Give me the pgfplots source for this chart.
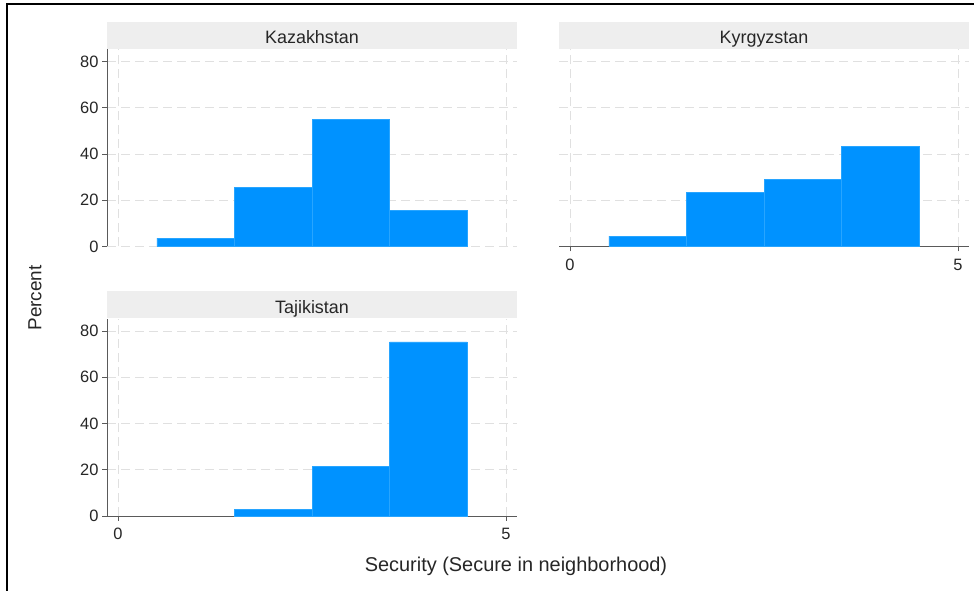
\documentclass[border=0pt]{standalone}
\usepackage{pgfplots}
\pgfplotsset{compat=1.18}
\usepackage{fontspec}
\setmainfont{Liberation Sans}
\definecolor{barblue}{RGB}{0,146,255}
\definecolor{baredge}{RGB}{40,165,255}
\definecolor{stripgray}{RGB}{238,238,238}
\definecolor{gridgray}{RGB}{224,224,224}
\definecolor{axgray}{RGB}{90,90,90}
\pgfplotsset{
  panel/.style={
    scale only axis, width=410bp, height=197bp,
    anchor=south west,
    xmin=-0.142, xmax=5.142, ymin=0, ymax=85.2,
    xtick={0,5}, ytick={0,20,40,60,80},
    grid=major,
    major grid style={dash pattern=on 9bp off 5bp, draw=gridgray, line width=0.9bp},
    axis lines*=left,
    axis line style={draw=axgray, line width=0.9bp},
    tick align=outside, major tick length=5bp,
    tick style={draw=axgray, line width=0.9bp},
    tick label style={font=\fontsize{16.5}{18}\selectfont, text=black!85},
    xticklabel style={yshift=-4bp},
    /pgf/number format/assume math mode=true,
    every axis title shift=0pt,
    title style={at={(rel axis cs:0.5,1)}, anchor=south, fill=stripgray,
      minimum width=410bp, text height=22bp, text depth=5bp, inner sep=0pt, yshift=0.5bp,
      font=\fontsize{18}{20}\selectfont, text=black!85},
    clip=false,
  },
  bars/.style={ybar interval, fill=barblue, draw=baredge, line width=0.6bp},
}
\begin{document}
\begin{tikzpicture}
\path[use as bounding box] (0bp,0bp) rectangle (974bp,591bp);
\draw[line width=1.6bp, black] (7bp,0bp) -- (7bp,587bp) -- (974bp,587bp);

% Kazakhstan
\begin{axis}[panel, at={(107bp,344.5bp)}, title={Kazakhstan},
  x axis line style={draw=none}, xticklabels={}, xtick style={draw=none}]
\addplot[bars] coordinates {(0.5,3.6) (1.5,25.7) (2.5,55.1) (3.5,15.6) (4.5,0)};
\end{axis}

% Kyrgyzstan
\begin{axis}[panel, at={(559bp,344.5bp)}, title={Kyrgyzstan},
  y axis line style={draw=none}, yticklabels={}, ytick style={draw=none}]
\addplot[bars] coordinates {(0.5,4.5) (1.5,23.3) (2.5,29.0) (3.5,43.2) (4.5,0)};
\end{axis}

% Tajikistan
\begin{axis}[panel, at={(107bp,75bp)}, title={Tajikistan}]
\addplot[bars] coordinates {(1.5,2.9) (2.5,21.5) (3.5,75.3) (4.5,0)};
\end{axis}

\node[rotate=90, font=\fontsize{19}{21}\selectfont, text=black!85] at (35bp,293bp) {Percent};
\node[font=\fontsize{20}{22}\selectfont, text=black!85] at (516bp,25bp) {Security (Secure in neighborhood)};
\end{tikzpicture}
\end{document}
